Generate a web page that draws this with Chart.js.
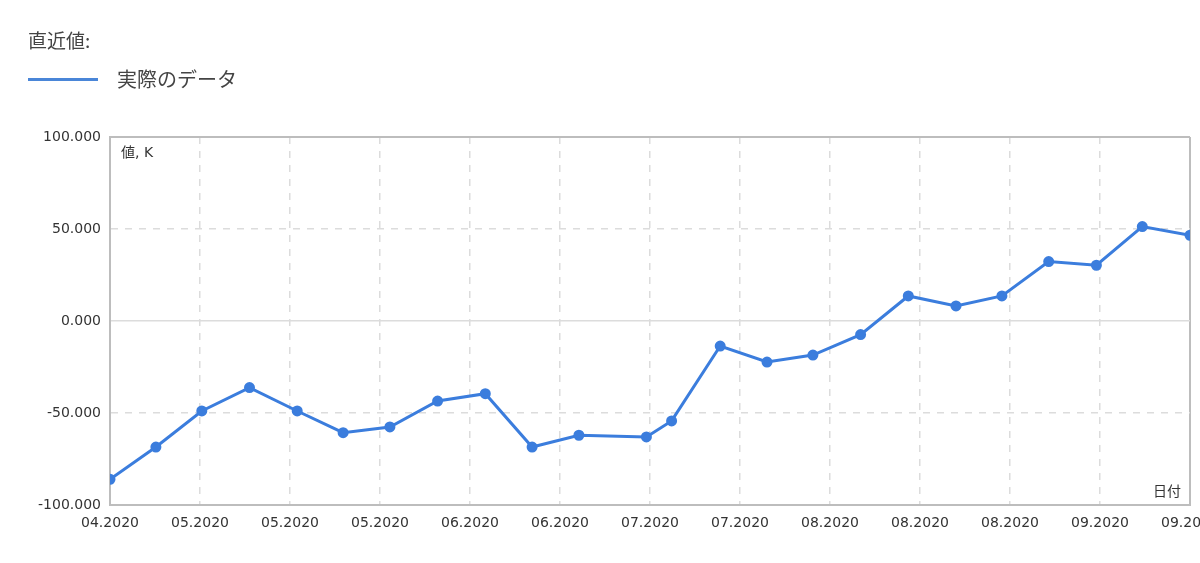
<!DOCTYPE html>
<html lang="ja">
<head>
<meta charset="utf-8">
<title>直近値</title>
<script src="https://cdn.jsdelivr.net/npm/chart.js@4.4.1/dist/chart.umd.min.js"></script>
<style>
  html, body { margin: 0; padding: 0; background: #fff; overflow: hidden; }
  #wrap { position: relative; width: 1200px; height: 563px; overflow: hidden; }
  #box { position: absolute; left: 0; top: 0; width: 1260px; height: 563px; }
  #title { position: absolute; left: 28px; top: 26px; font: 19px "Noto Sans CJK JP", sans-serif; color: #444; }
  #legend { position: absolute; left: 28px; top: 64px; font: 20px "Noto Sans CJK JP", sans-serif; color: #444; }
  #legend .line { display: inline-block; width: 70px; height: 3px; background: #4a86d8; vertical-align: middle; margin-right: 19px; position: relative; top: -2px; }
</style>
</head>
<body>
<div id="wrap">
  <div id="box"><canvas id="chart"></canvas></div>
  <div id="title">直近値:</div>
  <div id="legend"><span class="line"></span>実際のデータ</div>
</div>
<script>
// 目盛りラベル（x軸）
const xLabels = ['04.2020', '05.2020', '05.2020', '05.2020', '06.2020', '06.2020', '07.2020',
                 '07.2020', '08.2020', '08.2020', '08.2020', '09.2020', '09.2020'];
// 各点のx位置（目盛り単位）
const pointPos = [0, 0.51, 1.02, 1.55, 2.08, 2.59, 3.11, 3.64, 4.17, 4.69, 5.21, 5.96,
                  6.24, 6.78, 7.30, 7.81, 8.34, 8.87, 9.40, 9.91, 10.43, 10.96, 11.47, 12];
// 実際のデータ（K）
const actual = [-86.0, -68.5, -48.9, -36.2, -48.9, -60.7, -57.6, -43.5, -39.5, -68.5, -62.1, -63.0,
                -54.3, -13.6, -22.3, -18.5, -7.4, 13.6, 8.2, 13.6, 32.3, 30.3, 51.3, 46.6];
const yTicks = [-100, -50, 0, 50, 100];

const lineColor = '#3b7ddd';
const edgeColor = '#bdbdbd';
const gridColor = '#dcdcdc';

// 軸の名前をプロット内に描く
const axisNames = {
    id: 'axisNames',
    afterDraw(chart) {
        const {ctx, chartArea} = chart;
        ctx.save();
        ctx.fillStyle = '#333';
        ctx.font = '14px "DejaVu Sans", "Noto Sans CJK JP", sans-serif';
        ctx.textBaseline = 'middle';
        ctx.textAlign = 'left';
        ctx.fillText('値, K', chartArea.left + 11, chartArea.top + 16);
        ctx.textAlign = 'right';
        ctx.fillText('日付', chartArea.right - 9, chartArea.bottom - 13);
        ctx.restore();
    }
};

new Chart(document.getElementById('chart'), {
    type: 'line',
    data: {
        datasets: [{
            label: '実際のデータ',
            data: actual.map((v, i) => ({x: pointPos[i], y: v})),
            borderColor: lineColor,
            backgroundColor: lineColor,
            borderWidth: 3,
            pointRadius: 4,
            pointHoverRadius: 4,
            tension: 0
        }]
    },
    options: {
        responsive: true,
        maintainAspectRatio: false,
        animation: false,
        layout: { padding: { left: 0, top: 137, right: 70, bottom: 0 } },
        plugins: { legend: { display: false }, tooltip: { enabled: false } },
        scales: {
            x: {
                type: 'linear',
                min: 0,
                max: xLabels.length - 1,
                afterBuildTicks: s => { s.ticks = xLabels.map((_, i) => ({value: i})); },
                afterFit: s => { s.height = 58; },
                ticks: {
                    autoSkip: false,
                    maxRotation: 0,
                    padding: 10,
                    color: '#333',
                    font: { family: '"DejaVu Sans", sans-serif', size: 14 },
                    callback: v => xLabels[v]
                },
                grid: {
                    drawTicks: false,
                    color: c => (c.tick && (c.tick.value === 0 || c.tick.value === xLabels.length - 1)) ? edgeColor : gridColor,
                    lineWidth: c => (c.tick && (c.tick.value === 0 || c.tick.value === xLabels.length - 1)) ? 2 : 1.5
                },
                border: {
                    color: edgeColor,
                    width: 2,
                    dash: c => (c.tick && (c.tick.value === 0 || c.tick.value === xLabels.length - 1)) ? [] : [7, 7]
                }
            },
            y: {
                min: yTicks[0],
                max: yTicks[yTicks.length - 1],
                afterBuildTicks: s => { s.ticks = yTicks.map(v => ({value: v})); },
                afterFit: s => { s.width = 110; },
                ticks: {
                    padding: 9,
                    color: '#333',
                    font: { family: '"DejaVu Sans", sans-serif', size: 14 },
                    callback: v => v.toFixed(3)
                },
                grid: {
                    drawTicks: false,
                    color: c => (c.tick && Math.abs(c.tick.value) === 100) ? edgeColor : gridColor,
                    lineWidth: c => (c.tick && Math.abs(c.tick.value) === 100) ? 2 : 1.5
                },
                border: {
                    color: edgeColor,
                    width: 2,
                    dash: c => (c.tick && (c.tick.value === 0 || Math.abs(c.tick.value) === 100)) ? [] : [7, 7]
                }
            }
        }
    },
    plugins: [axisNames]
});
</script>
</body>
</html>
